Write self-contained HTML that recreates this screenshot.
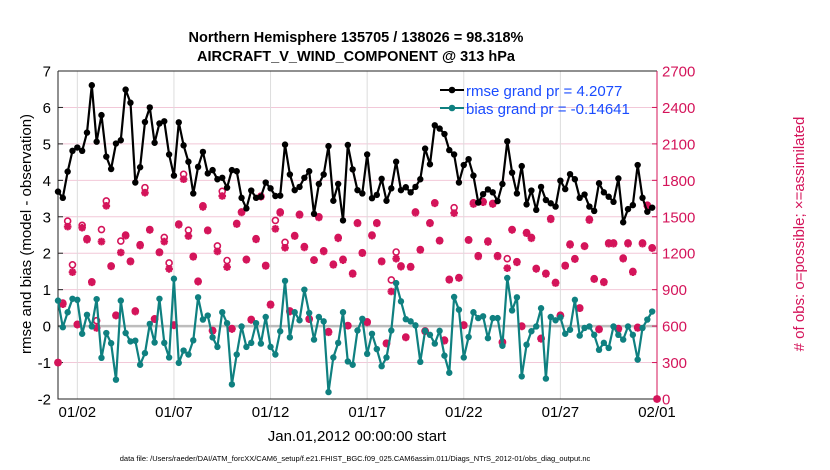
<!DOCTYPE html>
<html><head><meta charset="utf-8"><style>
body{margin:0;background:#fff;}
svg{display:block;font-family:"Liberation Sans",Arial,sans-serif;}
</style></head><body>
<svg id="chart" width="830" height="470" viewBox="0 0 830 470">
<g id="grid"></g>
<g id="axes"></g>
<g id="series"></g>
<text x="356" y="42" text-anchor="middle" font-size="14.5" font-weight="bold">Northern Hemisphere 135705 / 138026 = 98.318%</text>
<text x="356" y="61" text-anchor="middle" font-size="14.5" font-weight="bold">AIRCRAFT_V_WIND_COMPONENT @ 313 hPa</text>
<text transform="translate(31,234) rotate(-90)" text-anchor="middle" font-size="15">rmse and bias (model - observation)</text>
<text transform="translate(804,234) rotate(-90)" text-anchor="middle" font-size="15" fill="#d4145a"># of obs: o=possible; ×=assimilated</text>
<text x="357" y="441" text-anchor="middle" font-size="15">Jan.01,2012 00:00:00 start</text>
<text x="355" y="461" text-anchor="middle" font-size="7.5">data file: /Users/raeder/DAI/ATM_forcXX/CAM6_setup/f.e21.FHIST_BGC.f09_025.CAM6assim.011/Diags_NTrS_2012-01/obs_diag_output.nc</text>
<g id="legend">
<g>
<line x1="440" y1="90" x2="464" y2="90" stroke="#000" stroke-width="2"/>
<circle cx="452" cy="90" r="3.3" fill="#000"/>
<text x="466" y="96" font-size="15" fill="#1a4cff">rmse grand pr = 4.2077</text>
</g>
<g>
<line x1="440" y1="108" x2="464" y2="108" stroke="#0f8080" stroke-width="2"/>
<circle cx="452" cy="108" r="3.3" fill="#0f8080"/>
<text x="466" y="114" font-size="15" fill="#1a4cff">bias grand pr = -0.14641</text>
</g>
</g>
</svg>
<script>
const xTickLabels = ["01/02","01/07","01/12","01/17","01/22","01/27","02/01"];
const xTickDays = [1,6,11,16,21,26,31];
const yTickLabels = ["-2","-1","0","1","2","3","4","5","6","7"];
const yTickValues = [-2,-1,0,1,2,3,4,5,6,7];
const rTickLabels = ["0","300","600","900","1200","1500","1800","2100","2400","2700"];
const rTickValues = [0,300,600,900,1200,1500,1800,2100,2400,2700];
const rmse = [3.69,3.52,4.24,4.81,4.90,4.81,5.31,6.61,5.06,5.79,4.65,4.31,5.01,5.10,6.49,6.13,3.94,4.36,5.60,6.00,5.03,5.56,5.62,4.71,4.13,5.59,4.96,4.51,3.64,4.37,4.78,4.19,4.28,4.03,4.07,3.80,4.28,4.25,3.52,3.23,3.72,3.52,
3.55,3.94,3.78,3.57,3.58,4.98,4.16,3.73,3.82,4.07,4.25,3.08,3.90,4.16,4.94,3.44,3.90,2.90,4.97,4.30,3.73,3.64,4.71,3.51,3.60,4.04,3.44,3.78,4.51,3.73,3.81,3.67,3.82,4.03,4.87,4.44,5.51,5.42,5.27,4.83,4.71,3.94,
4.42,4.58,4.13,3.39,3.62,3.75,3.67,3.43,3.90,5.07,4.21,3.64,4.39,3.34,3.72,3.19,3.82,3.46,3.37,3.28,3.99,3.76,4.17,4.03,3.52,3.61,3.28,3.16,3.92,3.67,3.55,3.41,4.05,2.85,3.21,3.32,4.42,3.52,3.14,3.25];
const bias = [0.70,-0.03,0.38,0.75,0.72,-0.21,0.31,-0.01,0.74,-0.87,-0.19,-0.47,-1.47,0.70,-0.19,-0.42,-0.40,-1.06,-0.74,0.06,-0.45,0.75,-0.46,-0.86,1.30,-1.01,-0.67,-0.78,-0.39,0.79,0.18,0.29,-0.31,-0.57,0.38,0.08,-1.60,-0.78,-0.01,-0.57,-0.46,0.08,
-0.48,0.25,-0.57,-0.78,-0.14,1.24,-0.31,0.38,0.16,1.00,0.36,-0.37,0.25,0.13,-1.81,-0.86,-0.46,0.38,-0.97,-1.06,-0.12,0.20,-0.76,-0.21,-0.63,-1.10,-0.86,-0.12,1.18,0.68,0.19,0.13,0.02,-0.98,-0.13,-0.24,-0.48,-0.13,-0.81,-1.28,0.80,0.45,
-0.86,-0.30,0.38,0.22,0.27,-0.33,0.22,0.22,-0.54,1.32,0.43,0.79,-1.38,-0.51,-0.14,-0.01,0.49,-1.44,0.25,0.16,0.24,-0.21,-0.10,0.72,-0.26,-0.05,-0.01,-0.24,-0.65,-0.46,-0.60,-0.01,-0.24,-0.37,-0.01,-0.24,-0.92,-0.05,0.18,0.40];
const nAssim = [300,780,1419,1044,612,1410,1311,960,585,1296,1590,1092,687,1206,1344,1131,720,1263,1698,1392,657,1206,1296,1071,606,1434,1809,1341,1170,966,1581,1386,561,1215,1671,1086,576,1440,1536,1146,651,1314,
1665,1095,774,1401,1533,1245,720,1341,1515,1248,657,1143,1494,1215,549,1104,1323,1143,603,1029,1446,1200,630,1344,1446,1131,456,885,1155,1089,507,1086,1533,1227,558,1446,1611,1302,480,981,1530,996,
606,1308,1605,1173,1620,1293,1605,1173,465,1077,1392,1125,597,1365,1323,1071,495,1029,1479,954,684,1095,1269,1152,747,1257,1473,987,573,960,1278,1278,576,1155,1278,1044,585,1278,1590,1242,0];
const nPossible = [300,790,1465,1105,615,1430,1320,965,645,1395,1630,1095,690,1300,1350,1135,725,1270,1740,1395,660,1210,1330,1120,610,1440,1850,1390,1175,970,1590,1390,565,1260,1710,1140,580,1445,1540,1150,655,1320,
1670,1100,780,1470,1540,1290,725,1345,1520,1255,660,1145,1500,1220,555,1110,1330,1150,605,1035,1450,1205,635,1350,1450,1135,460,980,1210,1095,510,1090,1540,1230,560,1450,1615,1305,485,985,1575,1000,
610,1310,1615,1180,1625,1300,1610,1180,470,1155,1395,1130,600,1370,1330,1075,500,1035,1485,960,690,1100,1275,1155,750,1260,1480,990,575,965,1285,1285,580,1160,1285,1050,590,1285,1595,1245,0];

const X0=58, X1=657, Y0=399, Y1=71;
const NS="http://www.w3.org/2000/svg";
function xPos(i){ return X0 + (X1-X0)*(i*0.25)/31; }
function xDay(d){ return X0 + (X1-X0)*d/31; }
function yL(v){ return Y0 - (v+2)*(Y0-Y1)/9; }
function yR(c){ return Y0 - c*(Y0-Y1)/2700; }
function mk(tag, attrs, parent){
  const el=document.createElementNS(NS,tag);
  for(const k in attrs) el.setAttribute(k, attrs[k]);
  parent.appendChild(el); return el;
}
const grid=document.getElementById('grid'), axes=document.getElementById('axes'), series=document.getElementById('series');

yTickValues.forEach((v,i)=>{
  if(v!==0 && v!==-2 && v!==7){
    const g=mk('line',{x1:X0,x2:X1,y1:yL(v),y2:yL(v),stroke:'#f2c8d8','stroke-width':1},grid);
    
    
  }
  const t=mk('text',{x:X0-7,y:yL(v)+5.5,'text-anchor':'end','font-size':15},axes);
  t.textContent=yTickLabels[i];
  
  
  const tk=mk('line',{x1:X0,x2:X0+5,y1:yL(v),y2:yL(v),stroke:'#222'},axes);
  
  
});
xTickDays.forEach((d,i)=>{
  const x=xDay(d);
  const g=mk('line',{x1:x,x2:x,y1:Y1,y2:Y0,stroke:'#dcdcdc','stroke-width':1},grid);
  
  
  const t=mk('text',{x:x,y:Y0+18,'text-anchor':'middle','font-size':15},axes);
  t.textContent=xTickLabels[i];
  
  
});
rTickValues.forEach((c,i)=>{
  const t=mk('text',{x:X1+5,y:yR(c)+5.5,'font-size':15,fill:'#d4145a'},axes);
  t.textContent=rTickLabels[i];
  
  
  const tk=mk('line',{x1:X1-5,x2:X1,y1:yR(c),y2:yR(c),stroke:'#d4145a'},axes);
  
  
});
const zl=mk('line',{x1:X0,x2:X1,y1:yL(0),y2:yL(0),stroke:'#bdbdbd','stroke-width':2.5},grid);


const box=mk('path',{d:`M${X0},${Y1}H${X1}M${X0},${Y1}V${Y0}H${X1}`,fill:'none',stroke:'#222','stroke-width':1},axes);


const rax=mk('line',{x1:X1,x2:X1,y1:Y1,y2:Y0,stroke:'#d4145a','stroke-width':1},axes);



// obs counts
nAssim.forEach((c,i)=>{
  const x=xPos(i);
  const yp=yR(nPossible[i]);
  const ci=mk('circle',{cx:x,cy:yp,r:3,fill:'#fff',stroke:'#d4145a','stroke-width':1.6},series);
  
  
  const y=yR(c);
  const s=3.8;
  const st=mk('path',{d:`M${x-s},${y}H${x+s}M${x},${y-s}V${y+s}M${x-s*0.72},${y-s*0.72}L${x+s*0.72},${y+s*0.72}M${x-s*0.72},${y+s*0.72}L${x+s*0.72},${y-s*0.72}`,stroke:'#d4145a','stroke-width':2.2,fill:'none'},series);
  
  
});

function drawLine(arr,color,name){
  const pts=arr.map((v,i)=>xPos(i).toFixed(1)+','+yL(v).toFixed(1)).join(' ');
  const pl=mk('polyline',{points:pts,fill:'none',stroke:color,'stroke-width':2.2,'stroke-linejoin':'round'},series);
  
  
  arr.forEach((v,i)=>{
    const c=mk('circle',{cx:xPos(i),cy:yL(v),r:3.2,fill:color},series);
    
    
  });
}
drawLine(bias,'#0f8080','bias');
drawLine(rmse,'#000','rmse');
</script>
</body></html>
